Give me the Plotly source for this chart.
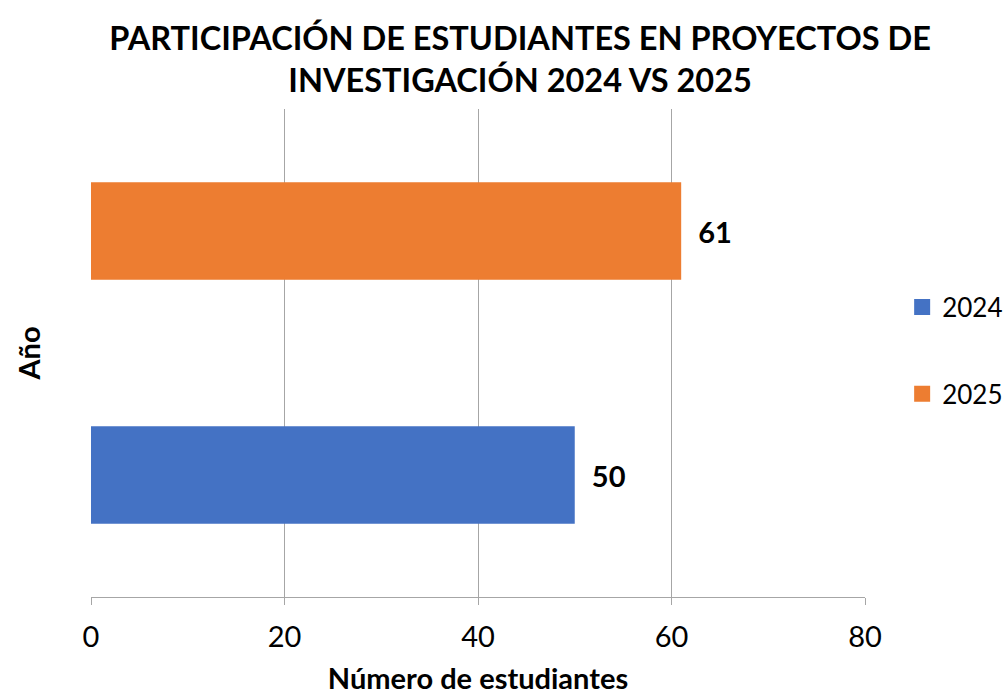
import plotly.graph_objects as go

years = ["2024", "2025"]
values = [50, 61]
colors = ["#4472C4", "#ED7D31"]
x_ticks = [0, 20, 40, 60, 80]

FONT = "Lato"

fig = go.Figure()
for yr, v, c in zip(years, values, colors):
    fig.add_trace(go.Bar(
        y=[yr], x=[v], orientation="h", width=0.4,
        marker=dict(color=c, line=dict(width=0)),
        text=["  " + str(v)], textposition="outside",
        textfont=dict(family=FONT, size=29, color="#000000", weight="bold"),
        showlegend=False, cliponaxis=False,
    ))
for yr, c in zip(years, colors):
    fig.add_trace(go.Scatter(
        x=[None], y=[None], mode="markers", name=yr, legendgroup=yr,
        marker=dict(symbol="square", size=18, color=c),
    ))

fig.update_layout(
    width=1004, height=695,
    paper_bgcolor="white", plot_bgcolor="white",
    margin=dict(l=91, r=139, t=109, b=98, autoexpand=False),
    barmode="overlay",
    title=dict(
        text="PARTICIPACIÓN DE ESTUDIANTES EN PROYECTOS DE<br>INVESTIGACIÓN 2024 VS 2025",
        x=0.518, xanchor="center", y=0.928, yanchor="middle", yref="container",
        font=dict(family=FONT, size=32.5, color="#000000", weight="bold"),
    ),
    font=dict(family=FONT, color="#000000"),
    legend=dict(
        x=1.048, xanchor="left", y=0.505, yanchor="middle", xref="paper",
        traceorder="grouped", tracegroupgap=50,
        font=dict(family=FONT, size=26, color="#000000"),
        itemwidth=30,
    ),
    showlegend=True,
)
fig.update_xaxes(
    range=[0, 80], tickvals=x_ticks, ticktext=[str(t) for t in x_ticks],
    showgrid=True, gridcolor="#A6A6A6", gridwidth=1,
    showline=True, linecolor="#A6A6A6", linewidth=1,
    ticks="outside", ticklen=7, tickcolor="#A6A6A6",
    tickfont=dict(family=FONT, size=29, color="#000000"),
    ticklabelstandoff=7,
    zeroline=False, automargin=False,
    title=dict(text="Número de estudiantes", standoff=32,
               font=dict(family=FONT, size=29, color="#000000", weight="bold")),
)
fig.update_yaxes(
    categoryorder="array", categoryarray=years,
    showticklabels=False, ticks="", showgrid=False, showline=False,
    range=[-0.5, 1.5], automargin=False,
    title=dict(text="Año", standoff=40,
               font=dict(family=FONT, size=29, color="#000000", weight="bold")),
)

fig.write_html("out.html", config={"displayModeBar": False},
               post_script="document.body.style.margin='0px';")
